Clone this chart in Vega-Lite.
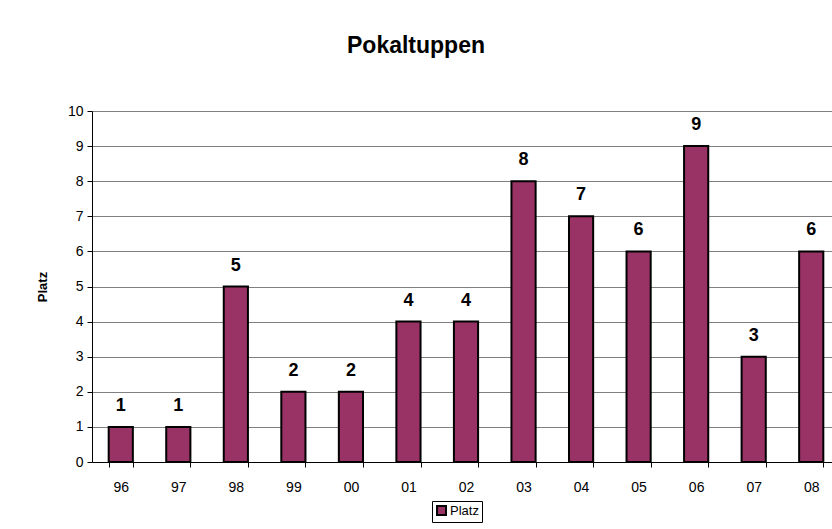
{
  "$schema": "https://vega.github.io/schema/vega-lite/v6.json",
  "autosize": {"type": "none"},
  "width": 748,
  "height": 351,
  "padding": {"left": 92, "top": 111, "right": -8, "bottom": 67},
  "background": "white",
  "title": {"text": "Pokaltuppen", "font": "Liberation Sans", "fontSize": 23, "fontWeight": "bold", "color": "black", "anchor": "middle", "frame": "group", "dx": -50, "offset": 46},
  "data": {"values": [
    {"Jahr": "96", "Platz": 1},
    {"Jahr": "97", "Platz": 1},
    {"Jahr": "98", "Platz": 5},
    {"Jahr": "99", "Platz": 2},
    {"Jahr": "00", "Platz": 2},
    {"Jahr": "01", "Platz": 4},
    {"Jahr": "02", "Platz": 4},
    {"Jahr": "03", "Platz": 8},
    {"Jahr": "04", "Platz": 7},
    {"Jahr": "05", "Platz": 6},
    {"Jahr": "06", "Platz": 9},
    {"Jahr": "07", "Platz": 3},
    {"Jahr": "08", "Platz": 6}
  ]},
  "encoding": {
    "x": {"field": "Jahr", "type": "ordinal", "sort": null,
      "scale": {"paddingInner": 0.58, "paddingOuter": 0.29},
      "axis": {"title": null, "labelAngle": 0, "labelFont": "Liberation Sans", "labelFontSize": 14, "labelColor": "black", "labelPadding": 13, "domainColor": "black", "domainWidth": 1, "tickColor": "black", "tickSize": 5, "tickBand": "extent", "grid": false}},
    "y": {"field": "Platz", "type": "quantitative",
      "scale": {"domain": [0, 10], "nice": false},
      "axis": {"title": "Platz", "titleFont": "Liberation Sans", "titleFontSize": 13, "titleFontWeight": "bold", "titleColor": "black", "titlePadding": 18, "values": [0,1,2,3,4,5,6,7,8,9,10], "labelFont": "Liberation Sans", "labelFontSize": 14, "labelColor": "black", "labelPadding": 4, "domainColor": "black", "tickColor": "black", "tickSize": 5, "grid": true, "gridColor": "#808080", "gridWidth": 1}}
  },
  "layer": [
    {
      "mark": {"type": "bar", "stroke": "black", "strokeWidth": 2},
      "encoding": {
        "color": {"datum": "Platz", "type": "nominal", "scale": {"range": ["#993366"]},
          "legend": {"title": null, "orient": "none", "legendX": 340, "legendY": 390, "strokeColor": "black", "padding": 3, "symbolType": "square", "symbolSize": 81, "symbolStrokeColor": "black", "symbolStrokeWidth": 2, "symbolOpacity": 1, "labelFont": "Liberation Sans", "labelFontSize": 13, "labelOffset": 2, "labelColor": "black", "fillColor": "white"}}
      }
    },
    {
      "mark": {"type": "text", "baseline": "alphabetic", "dy": -16, "font": "Liberation Sans", "fontSize": 18, "fontWeight": "bold", "color": "black"},
      "encoding": {"text": {"field": "Platz", "type": "quantitative"}}
    }
  ],
  "config": {"view": {"stroke": null}}
}
